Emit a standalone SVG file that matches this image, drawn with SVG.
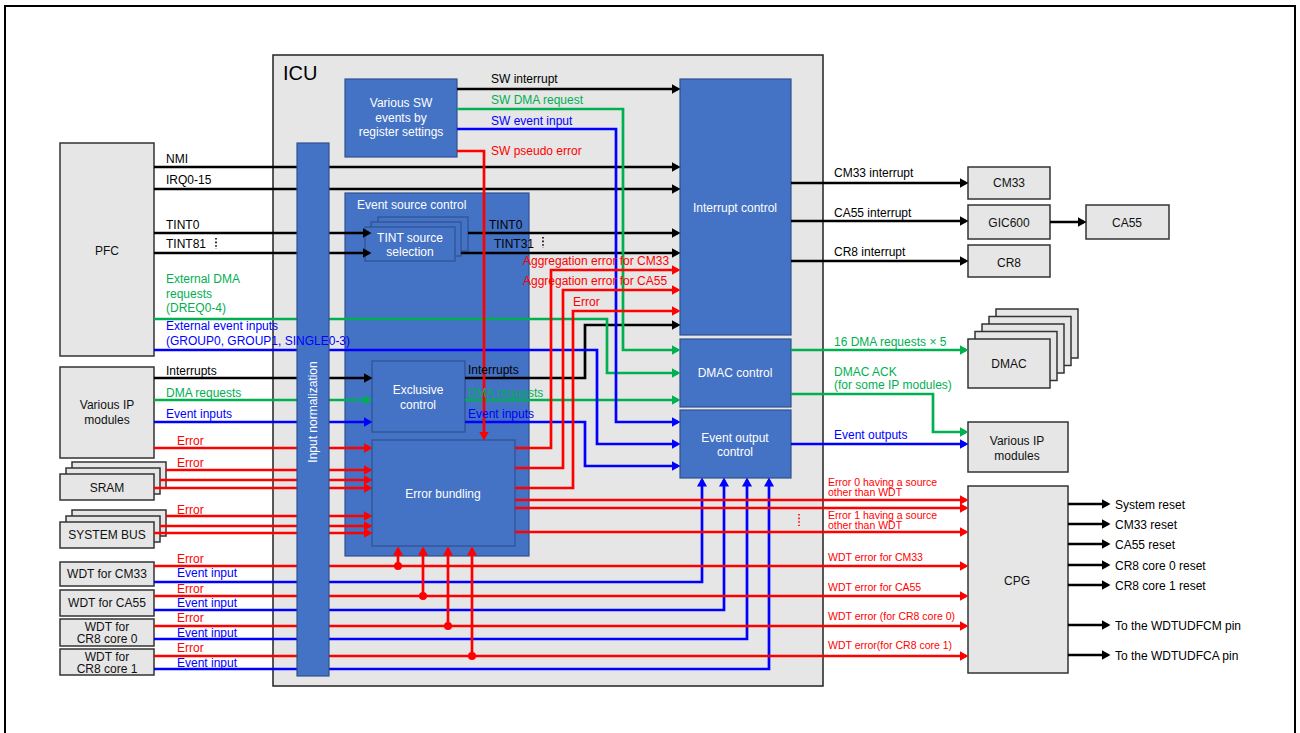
<svg xmlns="http://www.w3.org/2000/svg" width="1300" height="733" viewBox="0 0 1300 733">
  <style>
    text { font-family: "Liberation Sans", Arial, sans-serif; font-size: 12px; }
    .box { fill: #4472c4; stroke: #2f528f; stroke-width: 1.2; }
    .gbox { fill: #e6e6e6; stroke: #333333; stroke-width: 1.5; }
    .wt { fill: #ffffff; text-anchor: middle; }
    .nt { fill: #111111; text-anchor: middle; }
    .k { fill: #000000; }
    .r { fill: #ff0000; }
    .b { fill: #0000ff; }
    .g { fill: #00b050; }
    .sm { font-size: 10.5px; }
    .lk, .lr, .lb, .lg { fill: none; stroke-width: 2.7; }
    .lk { stroke: #000000; marker-end: url(#ak); }
    .lr { stroke: #ff0000; marker-end: url(#ar); }
    .lb { stroke: #0000ff; marker-end: url(#ab); }
    .lg { stroke: #00b050; marker-end: url(#ag); }
    .dots { stroke-width: 1.6; stroke-dasharray: 1.6 2; fill: none; }
  </style>
  <defs>
    <marker id="ak" markerUnits="userSpaceOnUse" markerWidth="10" markerHeight="12" refX="6.5" refY="5" orient="auto"><path d="M0,0 L9,5 L0,10 z" fill="#000000"/></marker>
    <marker id="ar" markerUnits="userSpaceOnUse" markerWidth="10" markerHeight="12" refX="6.5" refY="5" orient="auto"><path d="M0,0 L9,5 L0,10 z" fill="#ff0000"/></marker>
    <marker id="ab" markerUnits="userSpaceOnUse" markerWidth="10" markerHeight="12" refX="6.5" refY="5" orient="auto"><path d="M0,0 L9,5 L0,10 z" fill="#0000ff"/></marker>
    <marker id="ag" markerUnits="userSpaceOnUse" markerWidth="10" markerHeight="12" refX="6.5" refY="5" orient="auto"><path d="M0,0 L9,5 L0,10 z" fill="#00b050"/></marker>
  </defs>

  <rect x="0" y="0" width="1300" height="733" fill="#ffffff"/>
  <!-- outer frame -->
  <rect x="5" y="6" width="1290" height="740" fill="none" stroke="#000" stroke-width="2"/>

  <!-- ICU container -->
  <g id="icu">
    <rect x="273" y="55" width="550" height="631" fill="#e6e6e6" stroke="#222" stroke-width="1.5"/>
    <text x="283" y="80" style="font-size:20px" class="k">ICU</text>
  </g>

  <g id="sw-events">
    <rect class="box" x="345" y="79" width="112" height="78"/>
    <text class="wt" x="401" y="107">Various SW</text>
    <text class="wt" x="401" y="122">events by</text>
    <text class="wt" x="401" y="136">register settings</text>
  </g>

  <g id="event-source-control">
    <rect class="box" x="345" y="193" width="184" height="363"/>
    <text x="357" y="209" fill="#ffffff">Event source control</text>
  </g>

  <g id="tint-source-selection">
    <rect class="box" x="378" y="217" width="90" height="34"/>
    <rect class="box" x="371" y="222" width="90" height="34"/>
    <rect class="box" x="365" y="227" width="90" height="34"/>
    <text class="wt" x="410" y="242">TINT source</text>
    <text class="wt" x="410" y="256">selection</text>
  </g>

  <g id="exclusive-control">
    <rect class="box" x="372" y="361" width="93" height="71"/>
    <text class="wt" x="418" y="394">Exclusive</text>
    <text class="wt" x="418" y="409">control</text>
  </g>

  <g id="error-bundling">
    <rect class="box" x="372" y="440" width="143" height="106"/>
    <text class="wt" x="443" y="498">Error bundling</text>
  </g>

  <g id="interrupt-control">
    <rect class="box" x="680" y="79" width="111" height="256"/>
    <text class="wt" x="735" y="212">Interrupt control</text>
  </g>

  <g id="dmac-control">
    <rect class="box" x="680" y="339" width="111" height="68"/>
    <text class="wt" x="735" y="377">DMAC control</text>
  </g>

  <g id="event-output-control">
    <rect class="box" x="680" y="410" width="111" height="68"/>
    <text class="wt" x="735" y="442">Event output</text>
    <text class="wt" x="735" y="456">control</text>
  </g>

  <!-- sources on the left -->
  <g id="pfc">
    <rect class="gbox" x="60" y="143" width="94" height="213"/>
    <text class="nt" x="107" y="255">PFC</text>
  </g>

  <g id="various-ip-in">
    <rect class="gbox" x="60" y="367" width="94" height="91"/>
    <text class="nt" x="107" y="409">Various IP</text>
    <text class="nt" x="107" y="424">modules</text>
  </g>

  <g id="sram">
    <rect class="gbox" x="72" y="462" width="94" height="26"/>
    <rect class="gbox" x="66" y="468" width="94" height="26"/>
    <rect class="gbox" x="60" y="474" width="94" height="26"/>
    <text class="nt" x="107" y="492">SRAM</text>
  </g>

  <g id="system-bus">
    <rect class="gbox" x="72" y="510" width="94" height="26"/>
    <rect class="gbox" x="66" y="516" width="94" height="26"/>
    <rect class="gbox" x="60" y="522" width="94" height="26"/>
    <text class="nt" x="107" y="539">SYSTEM BUS</text>
  </g>

  <g id="wdt-cm33">
    <rect class="gbox" x="60" y="562" width="94" height="24"/>
    <text class="nt" x="107" y="578">WDT for CM33</text>
  </g>
  <g id="wdt-ca55">
    <rect class="gbox" x="60" y="590" width="94" height="26"/>
    <text class="nt" x="107" y="607">WDT for CA55</text>
  </g>
  <g id="wdt-cr8-0">
    <rect class="gbox" x="60" y="619" width="94" height="27"/>
    <text class="nt" x="107" y="631">WDT for</text>
    <text class="nt" x="107" y="643">CR8 core 0</text>
  </g>
  <g id="wdt-cr8-1">
    <rect class="gbox" x="60" y="649" width="94" height="26"/>
    <text class="nt" x="107" y="661">WDT for</text>
    <text class="nt" x="107" y="673">CR8 core 1</text>
  </g>

  <!-- destinations on the right -->
  <g id="cm33">
    <rect class="gbox" x="968" y="167" width="82" height="32"/>
    <text class="nt" x="1009" y="187">CM33</text>
  </g>
  <g id="gic600">
    <rect class="gbox" x="968" y="205" width="82" height="34"/>
    <text class="nt" x="1009" y="227">GIC600</text>
  </g>
  <g id="ca55">
    <rect class="gbox" x="1086" y="205" width="83" height="34"/>
    <text class="nt" x="1127" y="227">CA55</text>
  </g>
  <g id="cr8">
    <rect class="gbox" x="968" y="245" width="82" height="32"/>
    <text class="nt" x="1009" y="267">CR8</text>
  </g>
  <g id="dmac">
    <rect class="gbox" x="996" y="309" width="82" height="49"/>
    <rect class="gbox" x="989" y="316.5" width="82" height="49"/>
    <rect class="gbox" x="982" y="324" width="82" height="49"/>
    <rect class="gbox" x="975" y="331.5" width="82" height="49"/>
    <rect class="gbox" x="968" y="339" width="82" height="49"/>
    <text class="nt" x="1009" y="368">DMAC</text>
  </g>
  <g id="various-ip-out">
    <rect class="gbox" x="968" y="422" width="100" height="50"/>
    <text class="nt" x="1017" y="445">Various IP</text>
    <text class="nt" x="1017" y="460">modules</text>
  </g>
  <g id="cpg">
    <rect class="gbox" x="968" y="486" width="100" height="187"/>
    <text class="nt" x="1017" y="585">CPG</text>
  </g>

  <!-- connectors -->
  <g id="connectors">
    <!-- black: interrupts -->
    <path class="lk" d="M457,89 H678"/>
    <path class="lk" d="M154,167 H678"/>
    <path class="lk" d="M154,189 H678"/>
    <path class="lk" d="M154,233 H369"/>
    <path class="lk" d="M154,253 H369"/>
    <path class="lk" d="M468,233 H678"/>
    <path class="lk" d="M461,253 H678"/>
    <path class="lk" d="M154,378 H370"/>
    <path class="lk" d="M465,378 H585 V325 H678"/>
    <path class="lk" d="M791,183 H966"/>
    <path class="lk" d="M791,221 H966"/>
    <path class="lk" d="M791,261 H966"/>
    <path class="lk" d="M1050,222 H1084"/>
    <path class="lk" d="M1068,504 H1108"/>
    <path class="lk" d="M1068,524 H1108"/>
    <path class="lk" d="M1068,544 H1108"/>
    <path class="lk" d="M1068,565 H1108"/>
    <path class="lk" d="M1068,585 H1108"/>
    <path class="lk" d="M1068,625 H1108"/>
    <path class="lk" d="M1068,655 H1108"/>

    <!-- green: DMA -->
    <path class="lg" d="M457,109 H623 V350 H678"/>
    <path class="lg" d="M154,319 H607 V373 H678"/>
    <path class="lg" d="M154,400 H370"/>
    <path class="lg" d="M465,400 H678"/>
    <path class="lg" d="M791,350 H966"/>
    <path class="lg" d="M791,394 H933 V432 H966"/>

    <!-- blue: events -->
    <path class="lb" d="M457,129 H616 V422 H678"/>
    <path class="lb" d="M154,350 H597 V444 H678"/>
    <path class="lb" d="M154,422 H370"/>
    <path class="lb" d="M465,422 H585 V466 H678"/>
    <path class="lb" d="M791,444 H966"/>
    <path class="lb" d="M154,582 H702 V480"/>
    <path class="lb" d="M154,610 H724 V480"/>
    <path class="lb" d="M154,639 H747 V480"/>
    <path class="lb" d="M154,669 H769 V480"/>

    <!-- red: errors -->
    <path class="lr" d="M457,151 H484 V438"/>
    <path class="lr" d="M515,448 H551 V270 H678"/>
    <path class="lr" d="M515,468 H563 V290 H678"/>
    <path class="lr" d="M515,488 H573 V311 H678"/>
    <path class="lr" d="M515,500 H966"/>
    <path class="lr" d="M515,508 H966"/>
    <path class="lr" d="M515,532 H966"/>
    <path class="lr" d="M154,448 H370"/>
    <path class="lr" d="M166,470 H370"/>
    <path class="lr" d="M160,480 H370"/>
    <path class="lr" d="M154,488 H370"/>
    <path class="lr" d="M166,516 H370"/>
    <path class="lr" d="M160,526 H370"/>
    <path class="lr" d="M154,533 H370"/>
    <path class="lr" d="M154,566 H966"/>
    <path class="lr" d="M154,596 H966"/>
    <path class="lr" d="M154,626 H966"/>
    <path class="lr" d="M154,656 H966"/>
    <path class="lr" d="M398,566 V549"/>
    <path class="lr" d="M423,596 V549"/>
    <path class="lr" d="M448,626 V549"/>
    <path class="lr" d="M472,656 V549"/>
    <circle cx="398" cy="566" r="4" fill="#ff0000"/>
    <circle cx="423" cy="596" r="4" fill="#ff0000"/>
    <circle cx="448" cy="626" r="4" fill="#ff0000"/>
    <circle cx="472" cy="656" r="4" fill="#ff0000"/>

    <!-- continuation marks -->
    <path class="dots" stroke="#000" d="M216,238 V249"/>
    <path class="dots" stroke="#000" d="M543,237 V248"/>
    <path class="dots" stroke="#ff0000" d="M799,514 V526"/>
  </g>

  <!-- the normalization bar sits above the incoming signals -->
  <g id="input-normalization">
    <rect class="box" x="297" y="143" width="32" height="533"/>
    <text class="wt" transform="translate(317,412) rotate(-90)">Input normalization</text>
  </g>

  <!-- signal labels -->
  <g id="labels">
    <text class="k" x="491" y="83">SW interrupt</text>
    <text class="g" x="491" y="104">SW DMA request</text>
    <text class="b" x="491" y="125">SW event input</text>
    <text class="r" x="491" y="155">SW pseudo error</text>

    <text class="k" x="166" y="163">NMI</text>
    <text class="k" x="166" y="184">IRQ0-15</text>
    <text class="k" x="166" y="229">TINT0</text>
    <text class="k" x="166" y="248">TINT81</text>
    <text class="g" x="166" y="283">External DMA</text>
    <text class="g" x="166" y="298">requests</text>
    <text class="g" x="166" y="312">(DREQ0-4)</text>
    <text class="b" x="166" y="330">External event inputs</text>
    <text class="b" x="166" y="345">(GROUP0, GROUP1, SINGLE0-3)</text>

    <text class="k" x="489" y="229">TINT0</text>
    <text class="k" x="494" y="248">TINT31</text>
    <text class="r" x="523" y="265">Aggregation error for CM33</text>
    <text class="r" x="523" y="285">Aggregation error for CA55</text>
    <text class="r" x="573" y="306">Error</text>

    <text class="k" x="166" y="375">Interrupts</text>
    <text class="g" x="166" y="397">DMA requests</text>
    <text class="b" x="166" y="418">Event inputs</text>
    <text class="k" x="468" y="374">Interrupts</text>
    <text class="g" x="468" y="397">DMA requests</text>
    <text class="b" x="468" y="418">Event inputs</text>

    <text class="r" x="177" y="445">Error</text>
    <text class="r" x="177" y="467">Error</text>
    <text class="r" x="177" y="514">Error</text>
    <text class="r" x="177" y="563">Error</text>
    <text class="b" x="177" y="577">Event input</text>
    <text class="r" x="177" y="593">Error</text>
    <text class="b" x="177" y="607">Event input</text>
    <text class="r" x="177" y="622">Error</text>
    <text class="b" x="177" y="637">Event input</text>
    <text class="r" x="177" y="652">Error</text>
    <text class="b" x="177" y="667">Event input</text>

    <text class="k" x="834" y="177">CM33 interrupt</text>
    <text class="k" x="834" y="217">CA55 interrupt</text>
    <text class="k" x="834" y="256">CR8 interrupt</text>
    <text class="g" x="834" y="346">16 DMA requests × 5</text>
    <text class="g" x="834" y="376">DMAC ACK</text>
    <text class="g" x="834" y="389">(for some IP modules)</text>
    <text class="b" x="834" y="439">Event outputs</text>

    <text class="r sm" x="828" y="486">Error 0 having a source</text>
    <text class="r sm" x="828" y="496">other than WDT</text>
    <text class="r sm" x="828" y="519">Error 1 having a source</text>
    <text class="r sm" x="828" y="529">other than WDT</text>
    <text class="r sm" x="828" y="561">WDT error for CM33</text>
    <text class="r sm" x="828" y="591">WDT error for CA55</text>
    <text class="r sm" x="828" y="620">WDT error (for CR8 core 0)</text>
    <text class="r sm" x="828" y="649">WDT error(for CR8 core 1)</text>

    <text class="k" x="1115" y="509">System reset</text>
    <text class="k" x="1115" y="529">CM33 reset</text>
    <text class="k" x="1115" y="549">CA55 reset</text>
    <text class="k" x="1115" y="570">CR8 core 0 reset</text>
    <text class="k" x="1115" y="590">CR8 core 1 reset</text>
    <text class="k" x="1115" y="630">To the WDTUDFCM pin</text>
    <text class="k" x="1115" y="660">To the WDTUDFCA pin</text>
  </g>
</svg>
